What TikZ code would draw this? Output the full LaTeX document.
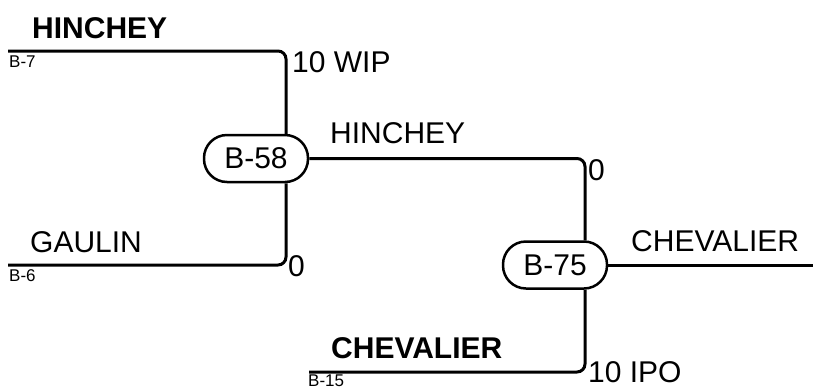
\documentclass[tikz,border=0pt]{standalone}
\usepackage{fontspec}
\setmainfont{Liberation Sans}
\begin{document}
\begin{tikzpicture}[x=1pt,y=-1pt,
  blk/.style={draw,line width=2.5pt,rectangle,rounded corners=23pt,minimum width=104pt,minimum height=47pt,inner sep=0pt,font=\fontsize{30}{30}\selectfont},
  wire/.style={line width=3pt,rounded corners=8pt},
  lbl/.style={anchor=base west,inner sep=0pt,font=\fontsize{30}{30}\selectfont},
  blbl/.style={lbl,font=\fontsize{30}{30}\selectfont\bfseries},
  slbl/.style={anchor=base west,inner sep=0pt,font=\fontsize{17}{17}\selectfont}]
\useasboundingbox (0,0) rectangle (813,389);
\node[blk] (b58) at (256,158.5) {B-58};
\node[blk] (b75) at (555,265) {B-75};
\coordinate (w7) at (8,51);
\coordinate (c7) at (286,51);
\coordinate (w6) at (8,265);
\coordinate (c6) at (286,265);
\coordinate (c58) at (585,158.5);
\coordinate (e75) at (813,265);
\coordinate (w15) at (309,372);
\coordinate (c15) at (585,372);
\draw[wire] (w7) -- (c7) -- (c7 |- b58.north);
\draw[wire] (w6) -- (c6) -- (c6 |- b58.south);
\draw[wire] (b58.east) -- (c58) -- (c58 |- b75.north);
\draw[wire] (w15) -- (c15) -- (c15 |- b75.south);
\draw[wire] (b75.east) -- (e75);
\node[blbl] (t1) at (32,38) {HINCHEY};
\node[slbl] (t2) at (9,67) {B-7};
\node[lbl] (t3) at (292,72) {10 WIP};
\node[lbl] (t4) at (330,143) {HINCHEY};
\node[lbl] (t5) at (588,180) {0};
\node[lbl] (t6) at (30,252) {GAULIN};
\node[slbl] (t7) at (9,281) {B-6};
\node[lbl] (t8) at (288,276) {0};
\node[lbl] (t9) at (631,251) {CHEVALIER};
\node[blbl] (t10) at (331,358) {CHEVALIER};
\node[slbl] (t11) at (308,386) {B-15};
\node[lbl] (t12) at (588,382) {10 IPO};
\end{tikzpicture}
\end{document}
